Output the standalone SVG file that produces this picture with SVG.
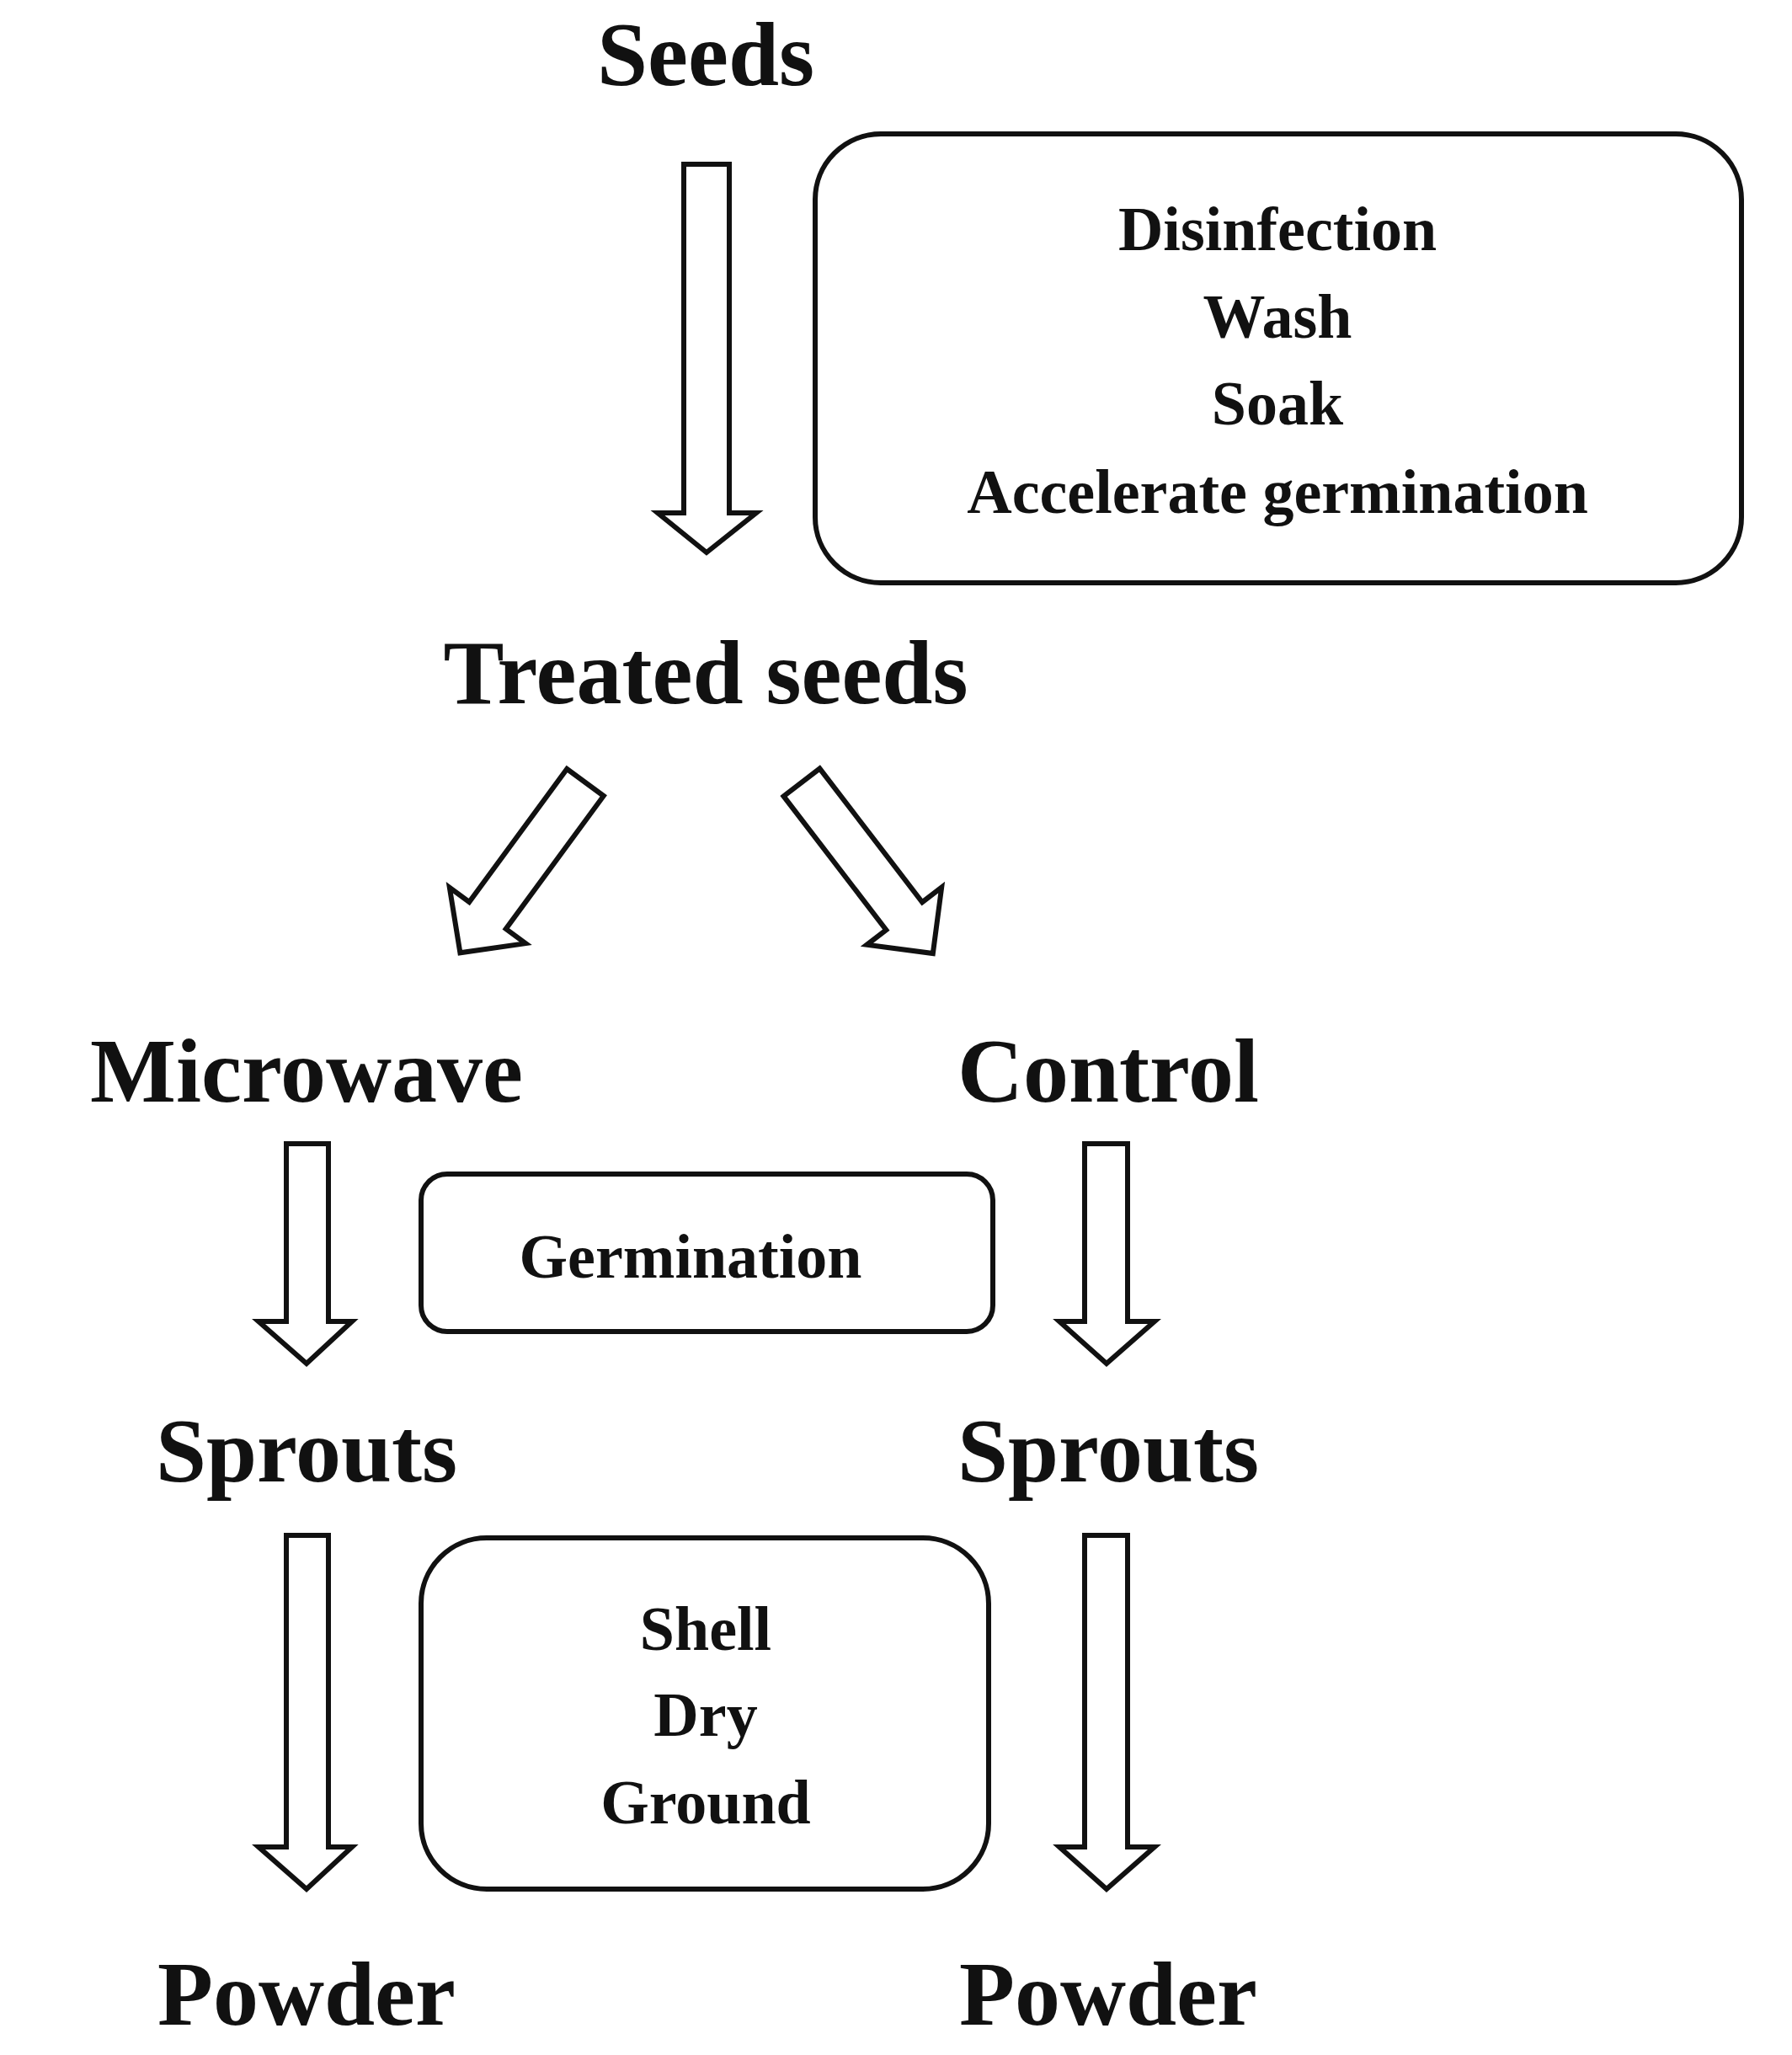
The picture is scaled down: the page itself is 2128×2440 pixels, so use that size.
<svg xmlns="http://www.w3.org/2000/svg" width="2128" height="2440" viewBox="0 0 2128 2440">
<style>
text{font-family:"Liberation Serif","Times New Roman",serif;font-weight:bold;text-anchor:middle;fill:#111}
.big{font-size:108px}
.sm{font-size:74px}
.box{fill:#fff;stroke:#111;stroke-width:6}
.arr{fill:#fff;stroke:#111;stroke-width:6;stroke-linejoin:miter}
</style>
<rect width="2128" height="2440" fill="#fff"/>
<g id="connectors">
<path class="arr" d="M812 195H866V609H898L839 656L781 609H812Z"/>
<path class="arr" transform="translate(695,929) rotate(36.3)" d="M-27 0H27V196H56L0 251L-56 196H-27Z"/>
<path class="arr" transform="translate(952,929) rotate(-37.5)" d="M-27 0H27V200H56L0 256L-56 200H-27Z"/>
<path class="arr" d="M340 1358H390V1569H418L364 1619L307 1569H340Z"/>
<path class="arr" d="M1288 1358H1339V1569H1371L1314 1619L1258 1569H1288Z"/>
<path class="arr" d="M340 1823H390V2193H418L364 2243L307 2193H340Z"/>
<path class="arr" d="M1288 1823H1339V2193H1371L1314 2243L1258 2193H1288Z"/>
</g>
<g id="seeds"><text class="big" x="838" y="101">Seeds</text></g>
<g id="prep">
<rect class="box" x="968" y="159" width="1100" height="533" rx="78"/>
<text class="sm" x="1517" y="297">Disinfection</text>
<text class="sm" x="1517" y="401">Wash</text>
<text class="sm" x="1517" y="504">Soak</text>
<text class="sm" x="1517" y="609">Accelerate germination</text>
</g>
<g id="treated"><text class="big" x="838" y="835">Treated seeds</text></g>
<g id="microwave"><text class="big" x="364" y="1308">Microwave</text></g>
<g id="control"><text class="big" x="1316" y="1308">Control</text></g>
<g id="germination">
<rect class="box" x="500" y="1394" width="679" height="187" rx="31"/>
<text class="sm" x="820" y="1517">Germination</text>
</g>
<g id="sprouts1"><text class="big" x="364" y="1759">Sprouts</text></g>
<g id="sprouts2"><text class="big" x="1316" y="1759">Sprouts</text></g>
<g id="process">
<rect class="box" x="500" y="1826" width="674" height="417" rx="78"/>
<text class="sm" x="838" y="1959">Shell</text>
<text class="sm" x="838" y="2061">Dry</text>
<text class="sm" x="838" y="2165">Ground</text>
</g>
<g id="powder1"><text class="big" x="364" y="2404">Powder</text></g>
<g id="powder2"><text class="big" x="1316" y="2404">Powder</text></g>
</svg>
